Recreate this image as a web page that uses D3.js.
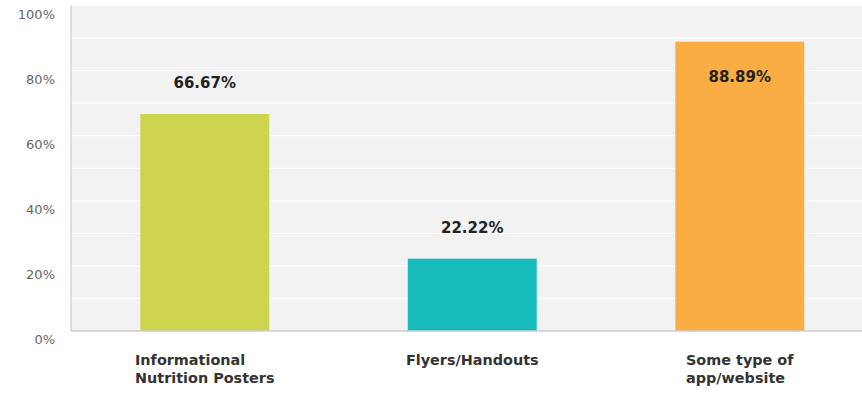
<!DOCTYPE html>
<html><head><meta charset="utf-8">
<script src="https://cdn.jsdelivr.net/npm/d3@7"></script>
<style>body{margin:0;background:#fff}svg{display:block;font-family:"DejaVu Sans",Verdana,sans-serif}</style>
</head><body><svg id="c" width="862" height="400"></svg>
<script>
const categories = [["Informational","Nutrition Posters"],["Flyers/Handouts"],["Some type of","app/website"]];
const values = [66.67, 22.22, 88.89];
const colors = ["#cdd44e", "#17bbbb", "#f9ad42"];
const yTicks = [0, 20, 40, 60, 80, 100];
const gridTicks = [10, 20, 30, 40, 50, 60, 70, 80, 90, 100];

const svg = d3.select("#c");
const L = 71, R = 873.5, T = 5.5, B = 331;
const x = d3.scaleBand().domain(d3.range(values.length)).range([L, R]).paddingInner(0.518).paddingOuter(0.259);
const y = d3.scaleLinear().domain([0, 100]).range([B, T]);

svg.append("rect").attr("x", L).attr("y", T).attr("width", R - L).attr("height", B - T).attr("fill", "#f2f2f2");
svg.append("g").selectAll("line").data(gridTicks).join("line")
  .attr("x1", L).attr("x2", R).attr("y1", d => y(d)).attr("y2", d => y(d))
  .attr("stroke", "#fff").attr("stroke-width", 1.2);

svg.append("g").selectAll("rect").data(values).join("rect")
  .attr("x", (d, i) => x(i)).attr("width", x.bandwidth())
  .attr("y", d => y(d)).attr("height", d => B - y(d))
  .attr("fill", (d, i) => colors[i]);

// axes lines
svg.append("line").attr("x1", L).attr("x2", L).attr("y1", T).attr("y2", B).attr("stroke", "#d4d4d4").attr("stroke-width", 1.5);
svg.append("line").attr("x1", L).attr("x2", R).attr("y1", B).attr("y2", B).attr("stroke", "#cccccc").attr("stroke-width", 1.5);

// y labels
svg.append("g").selectAll("text").data(yTicks).join("text")
  .attr("x", 55).attr("y", d => y(d) + 13).attr("text-anchor", "end")
  .attr("font-size", 13).attr("fill", "#666").text(d => d + "%");

// value labels
svg.append("g").selectAll("text").data(values).join("text")
  .attr("x", (d, i) => x(i) + x.bandwidth() / 2)
  .attr("y", d => y(d) - 30 < 40 ? y(d) + 40 : y(d) - 25.5)
  .attr("text-anchor", "middle").attr("font-size", 15).attr("font-weight", "bold").attr("fill", "#222")
  .text(d => d.toFixed(2) + "%");

// category labels (left-aligned block centred under bar)
const cat = svg.append("g").selectAll("text").data(categories).join("text")
  .attr("y", 365).attr("font-size", 14.4).attr("font-weight", "bold").attr("fill", "#333");
cat.selectAll("tspan").data(d => d).join("tspan")
  .attr("dy", (d, j) => j === 0 ? 0 : 18).text(d => d);
cat.each(function (d, i) {
  const spans = d3.select(this).selectAll("tspan").nodes();
  const w = d3.max(spans, n => n.getComputedTextLength());
  const x0 = x(i) + x.bandwidth() / 2 - w / 2;
  d3.select(this).attr("x", x0).selectAll("tspan").attr("x", x0);
});
</script></body></html>
